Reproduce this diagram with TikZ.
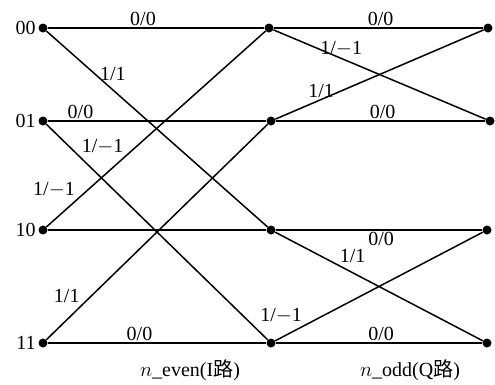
\documentclass[tikz,border=0pt]{standalone}
\usepackage{fontspec}
\setmainfont{Liberation Serif}
\newfontfamily\cjk{Noto Sans CJK SC}
\usepackage{tikz}
\usetikzlibrary{positioning}

\begin{document}
\begin{tikzpicture}[x=1pt,y=-1pt,
  dot/.style={circle, fill=black, inner sep=0pt, minimum size=9pt},
  branch/.style={line width=1.5pt},
  lbl/.style={font=\fontsize{20}{20}\selectfont, inner sep=1.5pt}]
  \useasboundingbox (0,0) rectangle (495,384);
  % states of the three stages
  \node[dot] (a00) at (43,28) {};
  \node[dot] (a01) at (43,121) {};
  \node[dot] (a10) at (43,230) {};
  \node[dot] (a11) at (43,343) {};
  \node[dot] (b00) at (269,28) {};
  \node[dot] (b01) at (271,121) {};
  \node[dot] (b10) at (271,230) {};
  \node[dot] (b11) at (271,343) {};
  \node[dot] (c00) at (488,28) {};
  \node[dot] (c01) at (490,121) {};
  \node[dot] (c10) at (487,230) {};
  \node[dot] (c11) at (487,343) {};
  \node[lbl, left=1pt of a00] (s00) {00};
  \node[lbl, left=1pt of a01] (s01) {01};
  \node[lbl, left=1pt of a10] (s10) {10};
  \node[lbl, left=1pt of a11] (s11) {11};
  % first stage
  \draw[branch] (a00) -- (b00) node[lbl, pos=0.44, above]{0/0};
  \draw[branch] (a00) -- (b10) node[lbl, pos=0.3, above=7pt]{1/1};
  \draw[branch] (a01) -- (b01) node[lbl, pos=0.15, above]{0/0};
  \draw[branch] (a01) -- (b11) node[lbl, pos=0.15, above right]{1/$-$1};
  \draw[branch] (a10) -- (b10);
  \draw[branch] (a10) -- (b00) node[lbl, pos=0.14, above left]{1/$-$1};
  \draw[branch] (a11) -- (b11) node[lbl, pos=0.42, above]{0/0};
  \draw[branch] (a11) -- (b01) node[lbl, pos=0.16, above left]{1/1};
  % second stage
  \draw[branch] (b00) -- (c00) node[lbl, pos=0.51, above]{0/0};
  \draw[branch] (b00) -- (c01) node[lbl, pos=0.32, above]{1/$-$1};
  \draw[branch] (b01) -- (c01) node[lbl, pos=0.51, above]{0/0};
  \draw[branch] (b01) -- (c00) node[lbl, pos=0.22, above]{1/1};
  \draw[branch] (b10) -- (c10) node[lbl, pos=0.51, below]{0/0};
  \draw[branch] (b10) -- (c11) node[lbl, pos=0.32, above right=2pt and -4pt]{1/1};
  \draw[branch] (b11) -- (c11) node[lbl, pos=0.51, above]{0/0};
  \draw[branch] (b11) -- (c10) node[lbl, pos=0.14, above left]{1/$-$1};
  % stage names
  \node[lbl] (even) at (190,370) {$n$\_even(I{\cjk 路})};
  \node[lbl] (odd) at (410,370) {$n$\_odd(Q{\cjk 路})};
\end{tikzpicture}
\end{document}
